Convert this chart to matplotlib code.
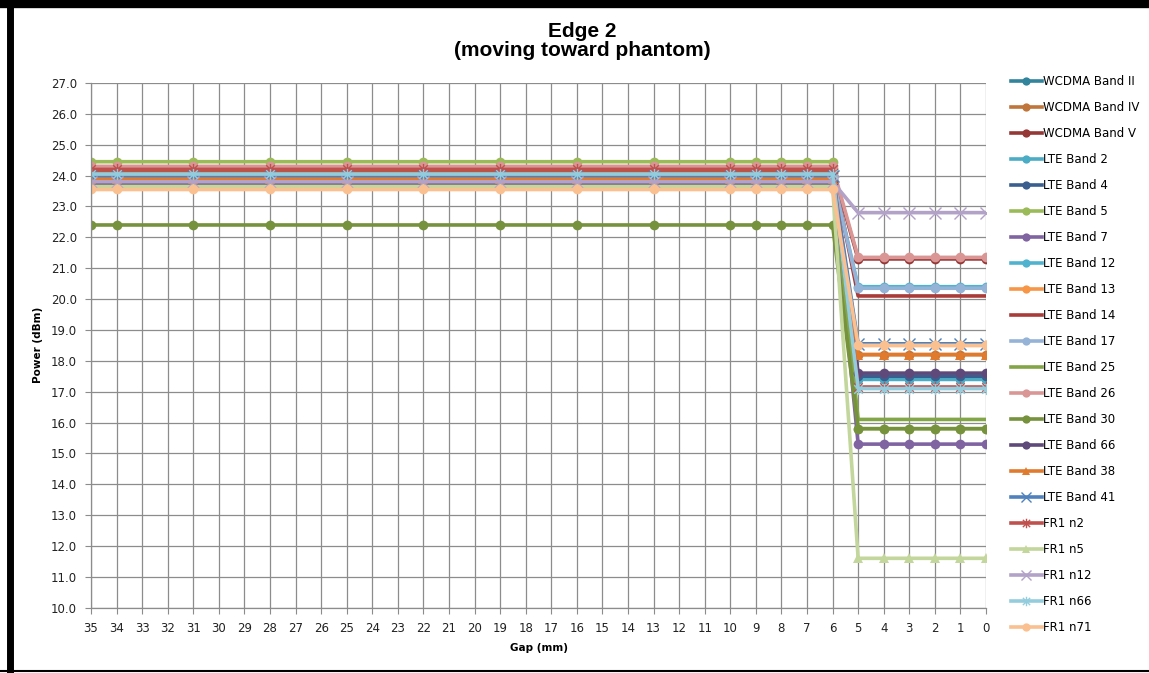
import matplotlib
matplotlib.use("Agg")
import matplotlib.pyplot as plt
from matplotlib.lines import Line2D
from matplotlib.path import Path

gaps = [35, 34, 31, 28, 25, 22, 19, 16, 13, 10, 9, 8, 7, 6, 5, 4, 3, 2, 1, 0]

series_names = ["WCDMA Band II", "WCDMA Band IV", "WCDMA Band V", "LTE Band 2", "LTE Band 4",
                "LTE Band 5", "LTE Band 7", "LTE Band 12", "LTE Band 13", "LTE Band 14",
                "LTE Band 17", "LTE Band 25", "LTE Band 26", "LTE Band 30", "LTE Band 66",
                "LTE Band 38", "LTE Band 41", "FR1 n2", "FR1 n5", "FR1 n12", "FR1 n66", "FR1 n71"]

# power level far (gaps 35..6) and near (gaps 5..0)
far_power = [24.0, 24.1, 24.2, 24.0, 23.9, 24.45, 23.8, 24.0, 23.7, 24.2,
             24.0, 23.9, 24.3, 22.4, 23.75, 23.9, 24.0, 24.2, 23.65, 23.8, 24.05, 23.55]
near_power = [17.4, 18.2, 21.3, 17.4, 17.5, 15.8, 15.3, 20.4, 18.5, 20.1,
              20.35, 16.1, 21.35, 15.8, 17.6, 18.2, 18.55, 17.15, 11.6, 22.8, 17.1, 18.5]

colors = ["#31849B", "#C0763A", "#953735", "#4BACC6", "#3A5F8F", "#9BBB59", "#8064A2",
          "#4FB3CF", "#F79646", "#A93B38", "#95B3D7", "#82A546", "#D99694", "#76923C",
          "#5F497A", "#E07B2E", "#4F81BD", "#C0504D", "#C3D69B", "#B3A2C7", "#93CDDD", "#FAC090"]
markers = ["o", "o", "o", "o", "o", "o", "o", "o", "o", None, "o", None, "o", "o", "o",
           "^", "x", "*", "^", "x", "*", "o"]

n_far = 14  # gaps 35..6

# Excel-style asterisk marker (x plus vertical bar)
star_path = Path([(-1, -1), (1, 1), (-1, 1), (1, -1), (0, -1.3), (0, 1.3)],
                 [Path.MOVETO, Path.LINETO, Path.MOVETO, Path.LINETO, Path.MOVETO, Path.LINETO])

fig = plt.figure(figsize=(11.49, 6.73), dpi=100)
W, H = 1149, 673
ax = fig.add_axes([91 / W, 1 - 607.7 / H, (986 - 91) / W, (607.7 - 83) / H])

for name, fp, npw, c, m in zip(series_names, far_power, near_power, colors, markers):
    ys = [fp] * n_far + [npw] * (len(gaps) - n_far)
    kw = dict(color=c, lw=2.6, label=name, solid_joinstyle="round")
    if m is not None:
        if m == "x":
            kw.update(marker="x", markersize=8, markeredgewidth=1.0, markeredgecolor=c)
        elif m == "*":
            kw.update(marker=star_path, markersize=8, markeredgewidth=1.0, markeredgecolor=c,
                      markerfacecolor="none")
        elif m == "^":
            kw.update(marker=m, markersize=7, markeredgewidth=0)
        else:
            kw.update(marker=m, markersize=7, markeredgewidth=0)
    ax.plot(gaps, ys, **kw)

ax.set_xlim(35, 0)
ax.set_ylim(10, 27)
ax.set_xticks(list(range(35, -1, -1)))
ax.set_yticks([10 + i for i in range(18)])
ax.set_yticklabels([f"{10 + i:.1f}" for i in range(18)])
ax.grid(True, color="#8C8C8C", lw=0.9)
ax.set_axisbelow(True)
for s in ["top", "right"]:
    ax.spines[s].set_visible(False)
for s in ["left", "bottom"]:
    ax.spines[s].set_color("#8C8C8C")
    ax.spines[s].set_linewidth(0.9)
ax.tick_params(axis="both", direction="out", length=4, color="#8C8C8C", labelsize=8.5,
               labelcolor="#222222", pad=6)

ax.set_xlabel("Gap (mm)", fontsize=7.5, fontweight="bold", labelpad=6)
ax.set_ylabel("Power (dBm)", fontsize=7.5, fontweight="bold", labelpad=6)

fig.text(582 / W, 1 - 41 / H, "Edge 2\n(moving toward phantom)", ha="center", va="center",
         fontsize=15, fontweight="bold", family="Liberation Sans", linespacing=1.05)

fig.legend(loc="upper left", bbox_to_anchor=(1011 / W, 1 - 75 / H), frameon=False,
           fontsize=8.5, handlelength=2.6, handletextpad=0.15, labelspacing=1.10,
           borderaxespad=0, borderpad=0, markerscale=0.85)

# black frame
fig.add_artist(Line2D([9.5 / W, 9.5 / W], [0, 1], color="black", lw=5, transform=fig.transFigure))
fig.add_artist(Line2D([0, 1], [1 - 4 / H, 1 - 4 / H], color="black", lw=6, transform=fig.transFigure))
fig.add_artist(Line2D([0, 1], [1 - 671 / H, 1 - 671 / H], color="black", lw=1.5, transform=fig.transFigure))

fig.savefig("out.png", dpi=100)
